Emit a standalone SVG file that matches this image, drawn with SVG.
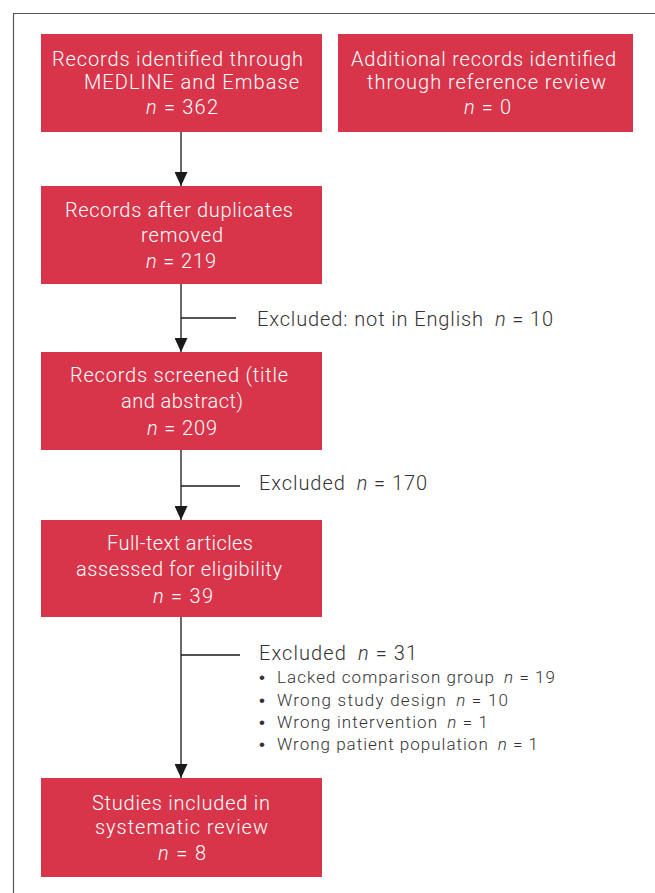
<svg xmlns="http://www.w3.org/2000/svg" width="655" height="893" viewBox="0 0 655 893">
<defs>
<style>
.box{fill:#d8344a;}
.bt{font-family:Roboto,"Liberation Sans",sans-serif;font-weight:300;font-size:20px;fill:#fff;}
.et{font-family:Roboto,"Liberation Sans",sans-serif;font-weight:300;font-size:20px;fill:#333;}
.lt{font-family:Roboto,"Liberation Sans",sans-serif;font-weight:300;font-size:17px;fill:#333;}
.bu{font-family:"Liberation Sans",sans-serif;font-size:17px;fill:#333;}
.ln{stroke:#1a1a1a;stroke-width:1.3;fill:none;}
.it{font-style:italic;}
</style>
<marker id="ah" markerWidth="14" markerHeight="13" refX="14" refY="6.5" orient="auto" markerUnits="userSpaceOnUse">
<path d="M0,0 L14,6.5 L0,13 Z" fill="#1a1a1a"/>
</marker>
</defs>
<rect x="0" y="0" width="655" height="893" fill="#fff"/>
<path d="M13.5,900 V13.5 H700" fill="none" stroke="#555" stroke-width="1.2"/>

<g id="connectors">
<line class="ln" x1="181" y1="131" x2="181" y2="186" marker-end="url(#ah)"/>
<line class="ln" x1="181" y1="284" x2="181" y2="352" marker-end="url(#ah)"/>
<line class="ln" x1="181" y1="318" x2="236" y2="318"/>
<line class="ln" x1="181" y1="450" x2="181" y2="520" marker-end="url(#ah)"/>
<line class="ln" x1="181" y1="486" x2="240" y2="486"/>
<line class="ln" x1="181" y1="617" x2="181" y2="778" marker-end="url(#ah)"/>
<line class="ln" x1="181" y1="655" x2="240" y2="655"/>
</g>

<g id="n1">
<rect class="box" x="41" y="34" width="281" height="98"/>
<text class="bt" x="52" y="66" textLength="251" lengthAdjust="spacing">Records identified through</text>
<text class="bt" x="84" y="89" textLength="215" lengthAdjust="spacing">MEDLINE and Embase</text>
<text class="bt" x="146" y="114" textLength="72" lengthAdjust="spacing"><tspan class="it">n</tspan> = 362</text>
</g>
<g id="n2">
<rect class="box" x="338" y="34" width="295" height="98"/>
<text class="bt" x="351" y="66" textLength="265" lengthAdjust="spacing">Additional records identified</text>
<text class="bt" x="367" y="89" textLength="239" lengthAdjust="spacing">through reference review</text>
<text class="bt" x="464" y="114" textLength="47" lengthAdjust="spacing"><tspan class="it">n</tspan> = 0</text>
</g>
<g id="n3">
<rect class="box" x="41" y="186" width="281" height="98"/>
<text class="bt" x="65" y="217" textLength="228" lengthAdjust="spacing">Records after duplicates</text>
<text class="bt" x="141" y="242" textLength="82" lengthAdjust="spacing">removed</text>
<text class="bt" x="146" y="268" textLength="70" lengthAdjust="spacing"><tspan class="it">n</tspan> = 219</text>
</g>
<g id="ex1">
<text class="et" x="257" y="326" textLength="296" lengthAdjust="spacing">Excluded: not in English<tspan class="it" dx="11">n</tspan> = 10</text>
</g>
<g id="n4">
<rect class="box" x="41" y="352" width="281" height="98"/>
<text class="bt" x="70" y="382" textLength="218" lengthAdjust="spacing">Records screened (title</text>
<text class="bt" x="121" y="408" textLength="122" lengthAdjust="spacing">and abstract)</text>
<text class="bt" x="147" y="435" textLength="70" lengthAdjust="spacing"><tspan class="it">n</tspan> = 209</text>
</g>
<g id="ex2">
<text class="et" x="259" y="490" textLength="168" lengthAdjust="spacing">Excluded<tspan class="it" dx="11">n</tspan> = 170</text>
</g>
<g id="n5">
<rect class="box" x="41" y="520" width="281" height="97"/>
<text class="bt" x="107" y="550" textLength="146" lengthAdjust="spacing">Full-text articles</text>
<text class="bt" x="76" y="576" textLength="206" lengthAdjust="spacing">assessed for eligibility</text>
<text class="bt" x="153" y="603" textLength="60" lengthAdjust="spacing"><tspan class="it">n</tspan> = 39</text>
</g>
<g id="ex3">
<text class="et" x="259" y="660" textLength="158" lengthAdjust="spacing">Excluded<tspan class="it" dx="11">n</tspan> = 31</text>
<text class="bu" x="259" y="683">•</text><text class="lt" x="277" y="683" textLength="278" lengthAdjust="spacing">Lacked comparison group<tspan class="it" dx="9">n</tspan> = 19</text>
<text class="bu" x="259" y="706">•</text><text class="lt" x="277" y="706" textLength="231" lengthAdjust="spacing">Wrong study design<tspan class="it" dx="9">n</tspan> = 10</text>
<text class="bu" x="259" y="728">•</text><text class="lt" x="277" y="728" textLength="211" lengthAdjust="spacing">Wrong intervention<tspan class="it" dx="9">n</tspan> = 1</text>
<text class="bu" x="259" y="750">•</text><text class="lt" x="277" y="750" textLength="261" lengthAdjust="spacing">Wrong patient population<tspan class="it" dx="9">n</tspan> = 1</text>
</g>
<g id="n6">
<rect class="box" x="41" y="778" width="281" height="99"/>
<text class="bt" x="92" y="810" textLength="178" lengthAdjust="spacing">Studies included in</text>
<text class="bt" x="95" y="834" textLength="173" lengthAdjust="spacing">systematic review</text>
<text class="bt" x="158" y="860" textLength="48" lengthAdjust="spacing"><tspan class="it">n</tspan> = 8</text>
</g>
</svg>
